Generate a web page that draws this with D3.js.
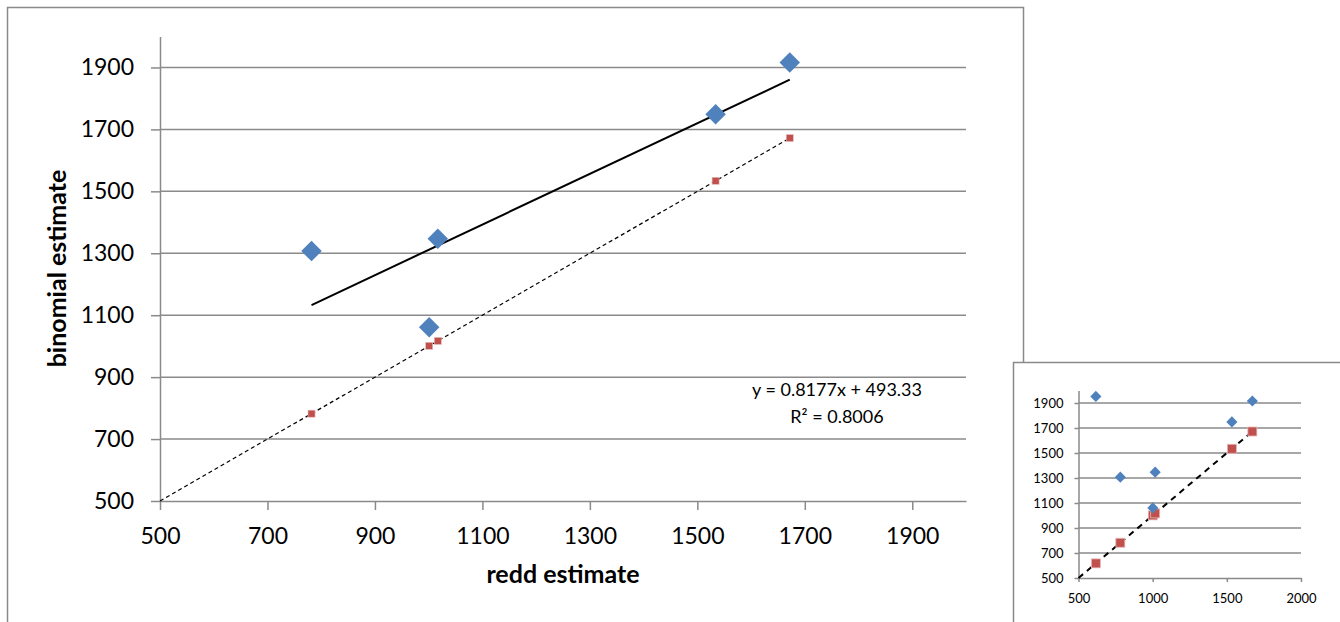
<!DOCTYPE html>
<html>
<head>
<meta charset="utf-8">
<script src="https://cdn.jsdelivr.net/npm/d3@7"></script>
<style>
  html, body { margin: 0; padding: 0; background: #fff; }
  svg { display: block; font-family: Lato, "Open Sans", sans-serif; }
</style>
</head>
<body>
<svg id="chart"></svg>
<script>
// main chart: redd estimate vs binomial estimate
const reddEst  = [782, 1001, 1017, 1534, 1672];
const binomEst = [1307, 1061, 1347, 1749, 1916];
// inset chart has one more point
const insetRedd  = [617, 782, 1001, 1017, 1534, 1672];
const insetBinom = [1953, 1307, 1061, 1347, 1749, 1916];

const mainTicks   = [500, 700, 900, 1100, 1300, 1500, 1700, 1900];
const insetXTicks = [500, 1000, 1500, 2000];
const insetYTicks = [500, 700, 900, 1100, 1300, 1500, 1700, 1900];

const trendSlope = 0.8177;
const trendIntercept = 493.33;
const rSquared = 0.8006;

const W = 1340, H = 622;
const gridColor = "#8a8a8a";
const blue = "#4f81bd", red = "#c0504d";

const svg = d3.select("#chart").attr("width", W).attr("height", H);
svg.append("rect").attr("width", W).attr("height", H).attr("fill", "#fff");

// ---------- main chart ----------
svg.append("rect")
  .attr("x", 7.5).attr("y", 7.5).attr("width", 1016).attr("height", 700)
  .attr("fill", "#fff").attr("stroke", gridColor).attr("stroke-width", 1.5);

const x = d3.scaleLinear().domain([500, 2000]).range([160, 966]);
const y = d3.scaleLinear().domain([500, 2000]).range([501, 36.5]);

const main = svg.append("g");

main.append("g").selectAll("line")
  .data(mainTicks.slice(1))
  .join("line")
  .attr("x1", x(500)).attr("x2", x(2000))
  .attr("y1", d => y(d)).attr("y2", d => y(d))
  .attr("stroke", gridColor).attr("stroke-width", 1.5);

const yAxis = main.append("g")
  .attr("transform", `translate(${x(500)},0)`)
  .call(d3.axisLeft(y).tickValues(mainTicks).tickSize(9).tickSizeOuter(0).tickPadding(17).tickFormat(d3.format("d")));

const xAxis = main.append("g")
  .attr("transform", `translate(0,${y(500)})`)
  .call(d3.axisBottom(x).tickValues(mainTicks).tickSize(9).tickSizeOuter(0).tickPadding(18).tickFormat(d3.format("d")));

[yAxis, xAxis].forEach(a => {
  a.select(".domain").attr("stroke", gridColor).attr("stroke-width", 1.5);
  a.selectAll(".tick line").attr("stroke", gridColor).attr("stroke-width", 1.5);
  a.selectAll("text").attr("font-size", 23).attr("fill", "#000").attr("font-family", "Lato");
});

// y = x reference line (dashed)
main.append("line")
  .attr("x1", x(500)).attr("y1", y(500))
  .attr("x2", x(d3.max(reddEst))).attr("y2", y(d3.max(reddEst)))
  .attr("stroke", "#000").attr("stroke-width", 1.2).attr("stroke-dasharray", "4,3");

// linear trendline
const xMin = d3.min(reddEst), xMax = d3.max(reddEst);
main.append("line")
  .attr("x1", x(xMin)).attr("y1", y(trendSlope * xMin + trendIntercept))
  .attr("x2", x(xMax)).attr("y2", y(trendSlope * xMax + trendIntercept))
  .attr("stroke", "#000").attr("stroke-width", 2);

// red squares on y = x
main.append("g").selectAll("rect")
  .data(reddEst)
  .join("rect")
  .attr("x", d => x(d) - 3.5).attr("y", d => y(d) - 3.5)
  .attr("width", 7).attr("height", 7)
  .attr("fill", red).attr("stroke", "#e6b9b8").attr("stroke-width", 0.6);

// blue diamonds
main.append("g").selectAll("path")
  .data(reddEst.map((d, i) => [d, binomEst[i]]))
  .join("path")
  .attr("d", d3.symbol(d3.symbolSquare, 210))
  .attr("transform", d => `translate(${x(d[0])},${y(d[1])}) rotate(45)`)
  .attr("fill", blue);

main.append("text")
  .attr("x", 563).attr("y", 583)
  .attr("text-anchor", "middle").attr("font-weight", "bold").attr("font-size", 25)
  .text("redd estimate");

main.append("text")
  .attr("transform", "translate(66,268.5) rotate(-90)")
  .attr("text-anchor", "middle").attr("font-weight", "bold").attr("font-size", 25)
  .text("binomial estimate");

const eq = main.append("text").attr("text-anchor", "middle").attr("font-size", 18);
eq.append("tspan").attr("x", 837).attr("y", 396)
  .text(`y = ${trendSlope}x + ${trendIntercept}`);
eq.append("tspan").attr("x", 837).attr("y", 423)
  .text(`R² = ${rSquared}`);

// ---------- inset chart ----------
svg.append("rect")
  .attr("x", 1013.5).attr("y", 362.5).attr("width", 400).attr("height", 300)
  .attr("fill", "#fff").attr("stroke", gridColor).attr("stroke-width", 1.5);

const ix = d3.scaleLinear().domain([500, 2000]).range([1078.5, 1301]);
const iy = d3.scaleLinear().domain([500, 2000]).range([578, 390.5]);

const inset = svg.append("g");

inset.append("g").selectAll("line")
  .data(insetYTicks.slice(1))
  .join("line")
  .attr("x1", ix(500)).attr("x2", ix(2000))
  .attr("y1", d => iy(d)).attr("y2", d => iy(d))
  .attr("stroke", gridColor).attr("stroke-width", 1.5);

const iyAxis = inset.append("g")
  .attr("transform", `translate(${ix(500)},0)`)
  .call(d3.axisLeft(iy).tickValues(insetYTicks).tickSize(4).tickSizeOuter(0).tickPadding(11).tickFormat(d3.format("d")));

const ixAxis = inset.append("g")
  .attr("transform", `translate(0,${iy(500)})`)
  .call(d3.axisBottom(ix).tickValues(insetXTicks).tickSize(4).tickSizeOuter(0).tickPadding(12).tickFormat(d3.format("d")));

[iyAxis, ixAxis].forEach(a => {
  a.select(".domain").attr("stroke", gridColor).attr("stroke-width", 1.5);
  a.selectAll(".tick line").attr("stroke", gridColor).attr("stroke-width", 1.5);
  a.selectAll("text").attr("font-size", 13).attr("fill", "#000").attr("font-family", "Lato");
});

inset.append("line")
  .attr("x1", ix(500)).attr("y1", iy(500))
  .attr("x2", ix(d3.max(insetRedd))).attr("y2", iy(d3.max(insetRedd)))
  .attr("stroke", "#000").attr("stroke-width", 2).attr("stroke-dasharray", "6,5");

inset.append("g").selectAll("rect")
  .data(insetRedd)
  .join("rect")
  .attr("x", d => ix(d) - 4.5).attr("y", d => iy(d) - 4.5)
  .attr("width", 9).attr("height", 9)
  .attr("fill", red).attr("stroke", "#e6b9b8").attr("stroke-width", 0.8);

inset.append("g").selectAll("path")
  .data(insetRedd.map((d, i) => [d, insetBinom[i]]))
  .join("path")
  .attr("d", d3.symbol(d3.symbolSquare, 62))
  .attr("transform", d => `translate(${ix(d[0])},${iy(d[1])}) rotate(45)`)
  .attr("fill", blue);
</script>
</body>
</html>
